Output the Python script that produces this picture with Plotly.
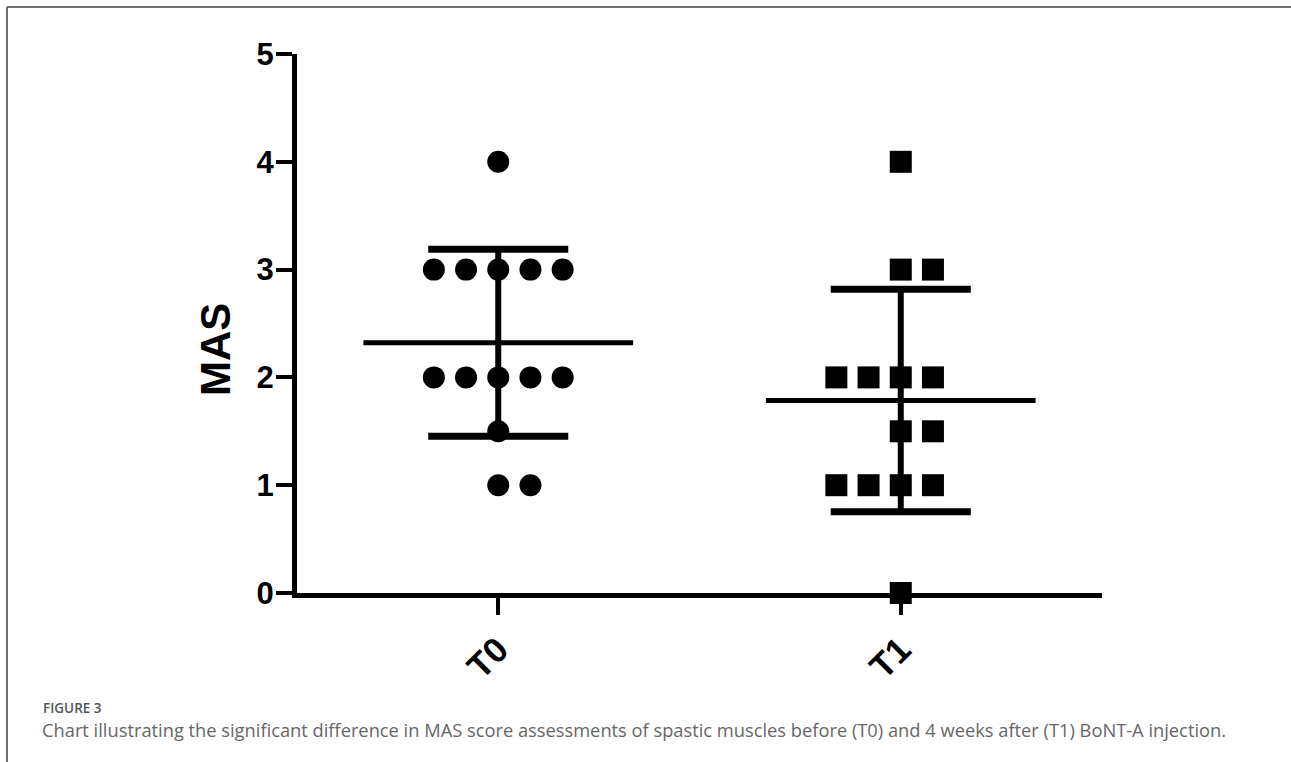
import numpy as np
import plotly.graph_objects as go

# ---- data ----
categories = ["T0", "T1"]
t0_values = [4, 3, 3, 3, 3, 3, 2, 2, 2, 2, 2, 1.5, 1, 1]
t1_values = [4, 3, 3, 2, 2, 2, 2, 1.5, 1.5, 1, 1, 1, 1, 0]
y_ticks = [0, 1, 2, 3, 4, 5]
y_title = "MAS"
fig_label = "FIGURE 3"
caption = ("Chart illustrating the significant difference in MAS score assessments of spastic "
           "muscles before (T0) and 4 weeks after (T1) BoNT-A injection.")

# ---- layout geometry (pixels) ----
W, H = 1291, 762
L, R, T, B = 297, 1102, 54, 593
PW, PH = R - L, B - T


def px(x):
    return (x - L) / PW


def py(y):
    return (B - y) / PH


SPACING = 0.08
MEAN_HALF = 0.335
CAP_HALF = 0.174
FONT = "Liberation Sans, Arial, sans-serif"


def arrange(values, center):
    xs, ys = [], []
    vals = np.array(values, dtype=float)
    for v in sorted(set(values), reverse=True):
        n = int(np.sum(vals == v))
        start = -(n // 2) if n > 2 else 0
        for k in range(n):
            xs.append(center + (start + k) * SPACING)
            ys.append(v)
    return xs, ys


fig = go.Figure()
groups = [(t0_values, "circle"), (t1_values, "square")]
for i, (vals, sym) in enumerate(groups):
    c = i + 1
    xs, ys = arrange(vals, c)
    fig.add_trace(go.Scatter(x=xs, y=ys, mode="markers", cliponaxis=False,
                             marker=dict(symbol=sym, size=22, color="black", line=dict(width=0)),
                             showlegend=False, hoverinfo="y"))
    m = float(np.mean(vals))
    sd = float(np.std(vals, ddof=1))
    # whisker
    fig.add_trace(go.Scatter(x=[c, c], y=[m - sd, m + sd], mode="lines",
                             line=dict(color="black", width=6), showlegend=False, hoverinfo="skip"))
    # caps
    for yy in (m - sd, m + sd):
        fig.add_trace(go.Scatter(x=[c - CAP_HALF, c + CAP_HALF], y=[yy, yy], mode="lines",
                                 line=dict(color="black", width=7), showlegend=False, hoverinfo="skip"))
    # mean
    fig.add_trace(go.Scatter(x=[c - MEAN_HALF, c + MEAN_HALF], y=[m, m], mode="lines",
                             line=dict(color="black", width=5), showlegend=False, hoverinfo="skip"))

fig.update_layout(
    width=W, height=H, autosize=False,
    margin=dict(l=L, r=W - R, t=T, b=H - B, pad=0),
    paper_bgcolor="white", plot_bgcolor="white",
    font=dict(family=FONT, color="black"),
    xaxis=dict(range=[0.5, 2.5], tickmode="array", tickvals=[1, 2], ticktext=categories,
               tickangle=-45, ticks="outside", ticklen=17, tickwidth=4, tickcolor="black",
               showline=True, linewidth=5, linecolor="black", showgrid=False, zeroline=False,
               tickfont=dict(family=FONT, size=35, weight="bold", color="black")),
    yaxis=dict(range=[0, 5], tickmode="array", tickvals=y_ticks, ticks="outside", ticklen=16,
               tickwidth=4, tickcolor="black", showline=True, linewidth=5, linecolor="black",
               showgrid=False, zeroline=False, ticklabelstandoff=-4,
               tickfont=dict(family=FONT, size=31, weight="bold", color="black")),
    annotations=[
        dict(text=y_title, x=px(215), y=py(350), xref="paper", yref="paper", showarrow=False,
             textangle=-90, font=dict(family=FONT, size=42, weight="bold", color="black"),
             xanchor="center", yanchor="middle"),
        dict(text=fig_label, x=px(41), y=py(708), xref="paper", yref="paper", showarrow=False,
             xanchor="left", yanchor="middle",
             font=dict(family="Open Sans, sans-serif", size=13.5, weight=600, color="#555555")),
        dict(text=caption, x=px(40), y=py(729), xref="paper", yref="paper", showarrow=False,
             xanchor="left", yanchor="middle",
             font=dict(family="Open Sans, sans-serif", size=18.3, color="#666666")),
    ],
    shapes=[
        dict(type="line", xref="paper", yref="paper", x0=px(7), x1=px(W + 5), y0=py(7), y1=py(7),
             line=dict(color="#6e6e6e", width=2)),
        dict(type="line", xref="paper", yref="paper", x0=px(7), x1=px(7), y0=py(7), y1=py(H + 5),
             line=dict(color="#6e6e6e", width=2)),
    ],
)

fig.write_html("out.html", config={"displayModeBar": False},
               post_script="document.body.style.margin='0';document.body.style.overflow='hidden';")
